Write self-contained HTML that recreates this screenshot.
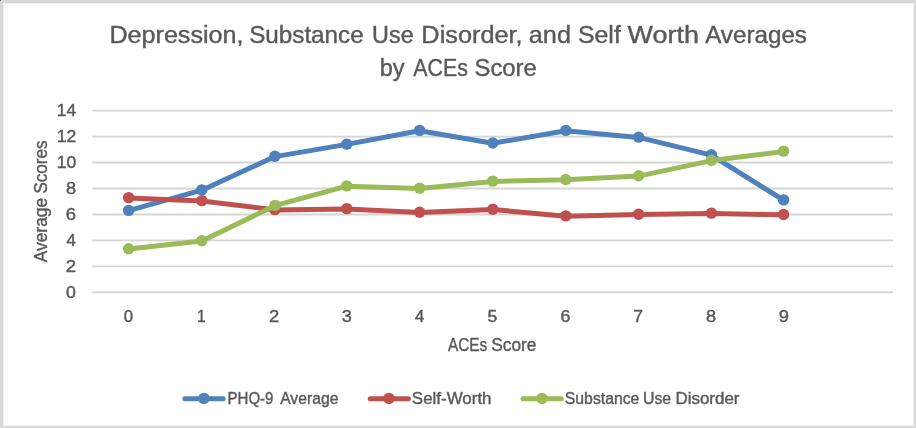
<!DOCTYPE html>
<html><head><meta charset="utf-8"><title>Chart</title>
<style>
html,body{margin:0;padding:0;background:#fff;}
body{width:916px;height:428px;overflow:hidden;position:relative;font-family:"Liberation Sans",sans-serif;}
#frame{position:absolute;left:0;top:0;width:916px;height:428px;box-sizing:border-box;border-style:solid;border-color:#d9d9d9;border-width:3px 2px 2px 3px;background:#fff;}
#inner{position:absolute;left:0;top:0;right:0;bottom:0;border:1px solid #f3f3f3;}
#px{position:absolute;left:0;top:0;width:1px;height:1px;background:#666;}
svg{position:absolute;left:0;top:0;will-change:transform;}
text{font-family:"Liberation Sans",sans-serif;fill:#595959;stroke:#595959;stroke-width:0.4px;}
</style></head><body>
<div id="frame"><div id="inner"></div></div><div id="px"></div>
<svg width="916" height="428" viewBox="0 0 916 428">
<line x1="92.3" x2="893" y1="110.6" y2="110.6" stroke="#d5d5d5" stroke-width="1.9"/>
<line x1="92.3" x2="893" y1="136.6" y2="136.6" stroke="#d5d5d5" stroke-width="1.9"/>
<line x1="92.3" x2="893" y1="162.55" y2="162.55" stroke="#d5d5d5" stroke-width="1.9"/>
<line x1="92.3" x2="893" y1="188.5" y2="188.5" stroke="#d5d5d5" stroke-width="1.9"/>
<line x1="92.3" x2="893" y1="214.45" y2="214.45" stroke="#d5d5d5" stroke-width="1.9"/>
<line x1="92.3" x2="893" y1="240.4" y2="240.4" stroke="#d5d5d5" stroke-width="1.9"/>
<line x1="92.3" x2="893" y1="266.35" y2="266.35" stroke="#d5d5d5" stroke-width="1.9"/>
<line x1="92.3" x2="893" y1="292.3" y2="292.3" stroke="#d5d5d5" stroke-width="1.9"/>
<polyline points="128.6,210.7 201.8,190.2 274.9,156.6 346.8,144.4 419.6,130.7 492.8,143.3 565.8,130.7 638.6,137.4 711.4,155.1 783.6,200.2" fill="none" stroke="#4f81bd" stroke-width="5.0" stroke-linecap="round" stroke-linejoin="round"/>
<circle cx="128.6" cy="210.4" r="5.7" fill="#4f81bd"/>
<circle cx="201.8" cy="189.9" r="5.7" fill="#4f81bd"/>
<circle cx="274.9" cy="156.3" r="5.7" fill="#4f81bd"/>
<circle cx="346.8" cy="144.1" r="5.7" fill="#4f81bd"/>
<circle cx="419.6" cy="130.4" r="5.7" fill="#4f81bd"/>
<circle cx="492.8" cy="143.0" r="5.7" fill="#4f81bd"/>
<circle cx="565.8" cy="130.4" r="5.7" fill="#4f81bd"/>
<circle cx="638.6" cy="137.1" r="5.7" fill="#4f81bd"/>
<circle cx="711.4" cy="154.8" r="5.7" fill="#4f81bd"/>
<circle cx="783.6" cy="199.9" r="5.7" fill="#4f81bd"/>
<polyline points="128.6,197.9 201.8,200.9 274.9,209.9 346.8,208.9 419.6,212.6 492.8,209.5 565.8,216.2 638.6,214.5 711.4,213.4 783.6,214.8" fill="none" stroke="#c0504d" stroke-width="5.0" stroke-linecap="round" stroke-linejoin="round"/>
<circle cx="128.6" cy="197.6" r="5.7" fill="#c0504d"/>
<circle cx="201.8" cy="200.6" r="5.7" fill="#c0504d"/>
<circle cx="274.9" cy="209.6" r="5.7" fill="#c0504d"/>
<circle cx="346.8" cy="208.6" r="5.7" fill="#c0504d"/>
<circle cx="419.6" cy="212.3" r="5.7" fill="#c0504d"/>
<circle cx="492.8" cy="209.2" r="5.7" fill="#c0504d"/>
<circle cx="565.8" cy="215.9" r="5.7" fill="#c0504d"/>
<circle cx="638.6" cy="214.2" r="5.7" fill="#c0504d"/>
<circle cx="711.4" cy="213.1" r="5.7" fill="#c0504d"/>
<circle cx="783.6" cy="214.5" r="5.7" fill="#c0504d"/>
<polyline points="128.6,249.1 201.8,241.1 274.9,205.7 346.8,186.2 419.6,188.4 492.8,181.4 565.8,179.8 638.6,176.1 711.4,160.6 783.6,151.4" fill="none" stroke="#9bbb59" stroke-width="5.0" stroke-linecap="round" stroke-linejoin="round"/>
<circle cx="128.6" cy="248.8" r="5.7" fill="#9bbb59"/>
<circle cx="201.8" cy="240.8" r="5.7" fill="#9bbb59"/>
<circle cx="274.9" cy="205.4" r="5.7" fill="#9bbb59"/>
<circle cx="346.8" cy="185.9" r="5.7" fill="#9bbb59"/>
<circle cx="419.6" cy="188.1" r="5.7" fill="#9bbb59"/>
<circle cx="492.8" cy="181.1" r="5.7" fill="#9bbb59"/>
<circle cx="565.8" cy="179.5" r="5.7" fill="#9bbb59"/>
<circle cx="638.6" cy="175.8" r="5.7" fill="#9bbb59"/>
<circle cx="711.4" cy="160.3" r="5.7" fill="#9bbb59"/>
<circle cx="783.6" cy="151.1" r="5.7" fill="#9bbb59"/>
<line x1="184.9" x2="223.1" y1="398.7" y2="398.7" stroke="#4f81bd" stroke-width="5.0" stroke-linecap="round"/><circle cx="203.9" cy="398.4" r="5.7" fill="#4f81bd"/>
<line x1="370.2" x2="408.4" y1="398.7" y2="398.7" stroke="#c0504d" stroke-width="5.0" stroke-linecap="round"/><circle cx="389.0" cy="398.4" r="5.7" fill="#c0504d"/>
<line x1="523.0" x2="561.2" y1="398.7" y2="398.7" stroke="#9bbb59" stroke-width="5.0" stroke-linecap="round"/><circle cx="542.0" cy="398.4" r="5.7" fill="#9bbb59"/>

<g>
<text x="109.43" y="42.8" font-size="24.4" textLength="134.09" lengthAdjust="spacingAndGlyphs">Depression,</text>
<text x="249.14" y="42.8" font-size="24.4" textLength="114.57" lengthAdjust="spacingAndGlyphs">Substance</text>
<text x="372.09" y="42.8" font-size="24.4" textLength="41.57" lengthAdjust="spacingAndGlyphs">Use</text>
<text x="421.36" y="42.8" font-size="24.4" textLength="101.23" lengthAdjust="spacingAndGlyphs">Disorder,</text>
<text x="528.84" y="42.8" font-size="24.4" textLength="42.14" lengthAdjust="spacingAndGlyphs">and</text>
<text x="578.04" y="42.8" font-size="24.4" textLength="42.75" lengthAdjust="spacingAndGlyphs">Self</text>
<text x="627.62" y="42.8" font-size="24.4" textLength="71.36" lengthAdjust="spacingAndGlyphs">Worth</text>
<text x="705.15" y="42.8" font-size="24.4" textLength="101.81" lengthAdjust="spacingAndGlyphs">Averages</text>
<text x="379.65" y="76.3" font-size="24.4" textLength="24.86" lengthAdjust="spacingAndGlyphs">by</text>
<text x="413.32" y="76.3" font-size="24.4" textLength="54.64" lengthAdjust="spacingAndGlyphs">ACEs</text>
<text x="474.5" y="76.3" font-size="24.4" textLength="62.3" lengthAdjust="spacingAndGlyphs">Score</text>
<text x="447.93" y="351.3" font-size="18" textLength="39.33" lengthAdjust="spacingAndGlyphs">ACEs</text>
<text x="491.2" y="351.3" font-size="18" textLength="45.23" lengthAdjust="spacingAndGlyphs">Score</text>
<text x="227.49" y="403.7" font-size="16" textLength="46.0" lengthAdjust="spacingAndGlyphs">PHQ-9</text>
<text x="280.18" y="403.7" font-size="16" textLength="58.2" lengthAdjust="spacingAndGlyphs">Average</text>
<text x="411.84" y="403.7" font-size="16" textLength="79.72" lengthAdjust="spacingAndGlyphs">Self-Worth</text>
<text x="564.82" y="403.7" font-size="16" textLength="74.55" lengthAdjust="spacingAndGlyphs">Substance</text>
<text x="642.97" y="403.7" font-size="16" textLength="28.23" lengthAdjust="spacingAndGlyphs">Use</text>
<text x="675.54" y="403.7" font-size="16" textLength="63.93" lengthAdjust="spacingAndGlyphs">Disorder</text>
<text x="56.87" y="116.3" font-size="15.6" textLength="19.21" lengthAdjust="spacingAndGlyphs">14</text>
<text x="56.8" y="142.3" font-size="15.6" textLength="19.6" lengthAdjust="spacingAndGlyphs">12</text>
<text x="56.84" y="168.3" font-size="15.6" textLength="19.57" lengthAdjust="spacingAndGlyphs">10</text>
<text x="65.91" y="194.2" font-size="15.6" textLength="10.09" lengthAdjust="spacingAndGlyphs">8</text>
<text x="65.75" y="220.2" font-size="15.6" textLength="10.27" lengthAdjust="spacingAndGlyphs">6</text>
<text x="66.43" y="246.1" font-size="15.6" textLength="9.34" lengthAdjust="spacingAndGlyphs">4</text>
<text x="65.85" y="272.1" font-size="15.6" textLength="10.25" lengthAdjust="spacingAndGlyphs">2</text>
<text x="65.96" y="298.0" font-size="15.6" textLength="9.88" lengthAdjust="spacingAndGlyphs">0</text>
<text x="123.86" y="322.0" font-size="15.6" textLength="9.35" lengthAdjust="spacingAndGlyphs">0</text>
<text x="196.93" y="322.0" font-size="15.6" textLength="8.65" lengthAdjust="spacingAndGlyphs">1</text>
<text x="269.04" y="322.0" font-size="15.6" textLength="10.25" lengthAdjust="spacingAndGlyphs">2</text>
<text x="341.67" y="322.0" font-size="15.6" textLength="10.1" lengthAdjust="spacingAndGlyphs">3</text>
<text x="414.95" y="322.0" font-size="15.6" textLength="9.3" lengthAdjust="spacingAndGlyphs">4</text>
<text x="487.44" y="322.0" font-size="15.6" textLength="9.78" lengthAdjust="spacingAndGlyphs">5</text>
<text x="560.62" y="322.0" font-size="15.6" textLength="9.89" lengthAdjust="spacingAndGlyphs">6</text>
<text x="633.35" y="322.0" font-size="15.6" textLength="9.79" lengthAdjust="spacingAndGlyphs">7</text>
<text x="705.91" y="322.0" font-size="15.6" textLength="10.09" lengthAdjust="spacingAndGlyphs">8</text>
<text x="778.87" y="322.0" font-size="15.6" textLength="10.22" lengthAdjust="spacingAndGlyphs">9</text>
<g transform="translate(46.6,262.37) rotate(-90)"><text x="0" y="0" font-size="17.6" textLength="64.57" lengthAdjust="spacingAndGlyphs">Average</text></g>
<g transform="translate(46.6,193.47) rotate(-90)"><text x="0" y="0" font-size="17.6" textLength="52.93" lengthAdjust="spacingAndGlyphs">Scores</text></g>
</g>
</svg>
</body></html>
